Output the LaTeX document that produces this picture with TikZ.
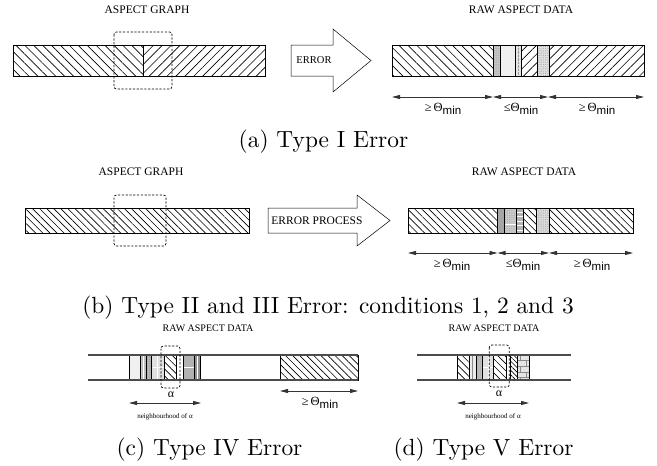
\documentclass[tikz,border=0pt]{standalone}
\usepackage{fontspec}
\newfontfamily\timesfont{Liberation Serif}
\newfontfamily\helvfont{Liberation Sans}
\newfontfamily\capfont{lmroman10-regular.otf}
\usetikzlibrary{patterns,patterns.meta,arrows.meta}
\newcommand{\gemin}{{\timesfont\fontsize{12.5}{14}\selectfont ≥\,Θ}\raisebox{-3pt}{\helvfont\fontsize{11.5}{13}\selectfont min}}
\newcommand{\lemin}{{\timesfont\fontsize{12.5}{14}\selectfont ≤Θ}\raisebox{-3pt}{\helvfont\fontsize{11.5}{13}\selectfont min}}
\tikzset{
  bar/.style={draw, line width=1pt},
  divline/.style={line width=1pt},
  hl/.style={pattern={Lines[angle=-45,distance=#1,line width=0.65pt]}},
  hl/.default=5pt,
  hr/.style={pattern={Lines[angle=45,distance=#1,line width=0.65pt]}},
  hr/.default=5pt,
  dotfill/.style={pattern={Dots[distance=1.8pt,radius=0.35pt]}, pattern color=black!45},
  dbox/.style={draw, dash pattern=on 2.2pt off 1.6pt, rounded corners=2.5pt, line width=0.7pt},
  dim/.style={{Triangle[length=8pt,width=4pt]}-{Triangle[length=8pt,width=4pt]}, line width=0.8pt, draw=black!80, fill=black},
  barrow/.style={draw, fill=white, line width=0.5pt, line join=miter},
  track/.style={draw=black!70, line width=1.3pt},
  lbl/.style={font=\timesfont\fontsize{11.5}{13}\selectfont, inner sep=0pt},
  elbl/.style={font=\timesfont\fontsize{10.5}{12}\selectfont, inner sep=0pt},
  slbl/.style={font=\timesfont\fontsize{10}{12}\selectfont, inner sep=0pt},
  tlbl/.style={font=\timesfont\fontsize{7}{8}\selectfont, inner sep=0pt},
  thl/.style={inner sep=0pt},
  albl/.style={font=\timesfont\fontsize{12}{14}\selectfont, inner sep=0pt},
  captxt/.style={font=\capfont\fontsize{23.4}{28}\selectfont, inner sep=0pt, anchor=base}
}
\begin{document}
\begin{tikzpicture}[x=1pt,y=1pt]
\useasboundingbox (0,0) rectangle (657,-466);

% ================= (a) =================
\node[lbl] (agA) at (147,-10) {ASPECT GRAPH};
\node[lbl] (rdA) at (521,-10) {RAW ASPECT DATA};
\path[hl=6.3pt] (13,-45) rectangle (143,-76);
\path[hr=6.3pt] (143,-45) rectangle (265,-76);
\draw[bar] (13,-45) rectangle (265,-76);
\draw[divline] (143,-45) -- (143,-76);
\draw[dbox] (114,-32) rectangle (172,-89);

\draw[barrow] (291,-45) -- (333,-45) -- (333,-29) -- (371,-60.5) -- (333,-92) -- (333,-76) -- (291,-76) -- cycle;
\node[elbl] (errA) at (314,-60.5) {ERROR};

\path[hl=6.3pt] (392,-45) rectangle (493,-76);
\fill[black!22] (493,-45) rectangle (500,-76);
\path[dotfill] (493,-45) rectangle (500,-76);
\fill[black!6] (500,-45) rectangle (515,-76);
\fill[black!10] (515,-45) rectangle (521.7,-76);
\draw[black!40, densely dotted] (518.3,-45) -- (518.3,-76);
\path[hr=6.3pt] (521.7,-45) rectangle (537,-76);
\fill[black!12] (537,-45) rectangle (549.5,-76);
\path[dotfill] (537,-45) rectangle (549.5,-76);
\path[hr=6.3pt] (549.5,-45) rectangle (644,-76);
\draw[bar] (392,-45) rectangle (644,-76);
\foreach \x in {493,500,515,521.7,537,549.5} \draw[divline] (\x,-45) -- (\x,-76);

\coordinate (a0) at (392,-97);
\coordinate (a1) at (493,-97);
\coordinate (a2) at (548,-97);
\coordinate (a3) at (644,-97);
\draw[dim] (a0) -- (a1);
\draw[dim] (a1) -- (a2);
\draw[dim] (a2) -- (a3);
\node[thl] (ta1) at (443,-109) {\gemin};
\node[thl] (ta2) at (521,-109) {\lemin};
\node[thl] (ta3) at (597,-109) {\gemin};

\node[captxt] (capA) at (323.5,-147.5) {(a) Type I Error};

% ================= (b) =================
\node[lbl] (agB) at (141,-172) {ASPECT GRAPH};
\node[lbl] (rdB) at (524,-172) {RAW ASPECT DATA};
\path[hl=5pt] (25,-208) rectangle (249,-233);
\draw[bar] (25,-208) rectangle (249,-233);
\draw[dbox] (114,-195) rectangle (166,-246);

\draw[barrow] (268,-208) -- (357,-208) -- (357,-195) -- (390,-220.5) -- (357,-246) -- (357,-233) -- (268,-233) -- cycle;
\node[lbl] (errB) at (317,-220.5) {ERROR PROCESS};

\path[hl=5pt] (408,-208) rectangle (497.5,-233);
\fill[black!35] (497.5,-208) rectangle (504,-233);
\fill[black!20] (504,-208) rectangle (516.7,-233);
\path[dotfill] (504,-208) rectangle (516.7,-233);
\draw[white, line width=0.8pt] (505,-224) -- (516,-224);
\fill[black!30] (516.7,-208) rectangle (523.3,-233);
\foreach \y in {-212,-216.5,-221,-225.5,-230} \draw[white, line width=0.8pt] (517.2,\y) -- (522.8,\y);
\path[hl=5pt] (523.3,-208) rectangle (536.7,-233);
\fill[black!14] (536.7,-208) rectangle (549,-233);
\path[dotfill] (536.7,-208) rectangle (549,-233);
\path[hl=5pt] (549,-208) rectangle (633,-233);
\draw[bar] (408,-208) rectangle (633,-233);
\foreach \x in {497.5,504,516.7,523.3,536.7,549} \draw[divline] (\x,-208) -- (\x,-233);

\coordinate (b0) at (408,-253);
\coordinate (b1) at (497.5,-253);
\coordinate (b2) at (549,-253);
\coordinate (b3) at (633,-253);
\draw[dim] (b0) -- (b1);
\draw[dim] (b1) -- (b2);
\draw[dim] (b2) -- (b3);
\node[thl] (tb1) at (452,-265) {\gemin};
\node[thl] (tb2) at (523,-265) {\lemin};
\node[thl] (tb3) at (592,-265) {\gemin};

\node[captxt] (capB) at (328,-313) {(b) Type II and III Error: conditions 1, 2 and 3};

% ================= (c) =================
\node[slbl] (rdC) at (208,-328) {RAW ASPECT DATA};
\fill[black!6] (129.3,-355) rectangle (140.7,-380);
\fill[black!22] (140.7,-355) rectangle (146.7,-380);
\path[dotfill] (140.7,-355) rectangle (146.7,-380);
\draw[white, line width=0.7pt] (143.7,-356) -- (143.7,-379);
\fill[black!28] (146.7,-355) rectangle (151.7,-380);
\path[dotfill] (146.7,-355) rectangle (151.7,-380);
\fill[black!12] (151.7,-355) rectangle (164,-380);
\draw[white, line width=0.7pt] (157.8,-356) -- (157.8,-379) (152.5,-367) -- (163.5,-367);
\path[hl=5pt] (164,-355) rectangle (176.7,-380);
\fill[black!30] (183.3,-355) rectangle (194.3,-380);
\draw[white, line width=0.7pt] (184,-367) -- (193.7,-367);
\fill[black!42] (194.3,-355) rectangle (200.5,-380);
\draw[white, line width=0.7pt] (197.4,-356) -- (197.4,-379);
\foreach \x in {129.3,140.7,146.7,151.7,164,176.7,183.3,194.3,200.5} \draw[divline] (\x,-355) -- (\x,-380);
\path[hl=5pt] (280,-355) rectangle (358,-380);
\draw[bar] (280,-355) rectangle (358,-380);
\draw[track] (88,-355) -- (358,-355);
\draw[track] (88,-380) -- (358,-380);
\draw[dbox] (161,-346) rectangle (180,-388);
\node[albl] (alC) at (171,-395) {α};
\coordinate (c0) at (129,-403);
\coordinate (c1) at (201,-403);
\draw[dim] (c0) -- (c1);
\node[tlbl] (nbC) at (165,-417) {neighbourhood of α};
\coordinate (c2) at (280,-391);
\coordinate (c3) at (358,-391);
\draw[dim] (c2) -- (c3);
\node[thl] (tc1) at (320,-403) {\gemin};

\node[captxt] (capC) at (209.5,-455) {(c) Type IV Error};

% ================= (d) =================
\node[slbl] (rdD) at (494,-328) {RAW ASPECT DATA};
\path[hl=5pt] (457.3,-355) rectangle (469.3,-380);
\fill[black!8] (469.3,-355) rectangle (476,-380);
\draw[black!45, line width=0.6pt] (472.6,-355) -- (472.6,-380);
\fill[black!25] (476,-355) rectangle (482.7,-380);
\path[dotfill] (476,-355) rectangle (482.7,-380);
\fill[black!12] (482.7,-355) rectangle (493.3,-380);
\draw[white, line width=0.7pt] (488,-356) -- (488,-379) (483.3,-367) -- (492.7,-367);
\path[hl=5pt] (493.3,-355) rectangle (506,-380);
\path[hl=3.2pt] (510.7,-355) rectangle (517.3,-380);
\fill[black!10] (517.3,-355) rectangle (529.3,-380);
\path[pattern=bricks, pattern color=black!45] (517.3,-355) rectangle (529.3,-380);
\foreach \x in {457.3,469.3,476,482.7,493.3,506,510.7,517.3,529.3} \draw[divline] (\x,-355) -- (\x,-380);
\draw[track] (417,-355) -- (571,-355);
\draw[track] (417,-380) -- (571,-380);
\draw[dbox] (489.3,-345) rectangle (509.3,-387);
\node[albl] (alD) at (499,-394) {α};
\coordinate (d0) at (457,-403);
\coordinate (d1) at (529,-403);
\draw[dim] (d0) -- (d1);
\node[tlbl] (nbD) at (493,-417) {neighbourhood of α};

\node[captxt] (capD) at (483.5,-455) {(d) Type V Error};
\end{tikzpicture}
\end{document}
